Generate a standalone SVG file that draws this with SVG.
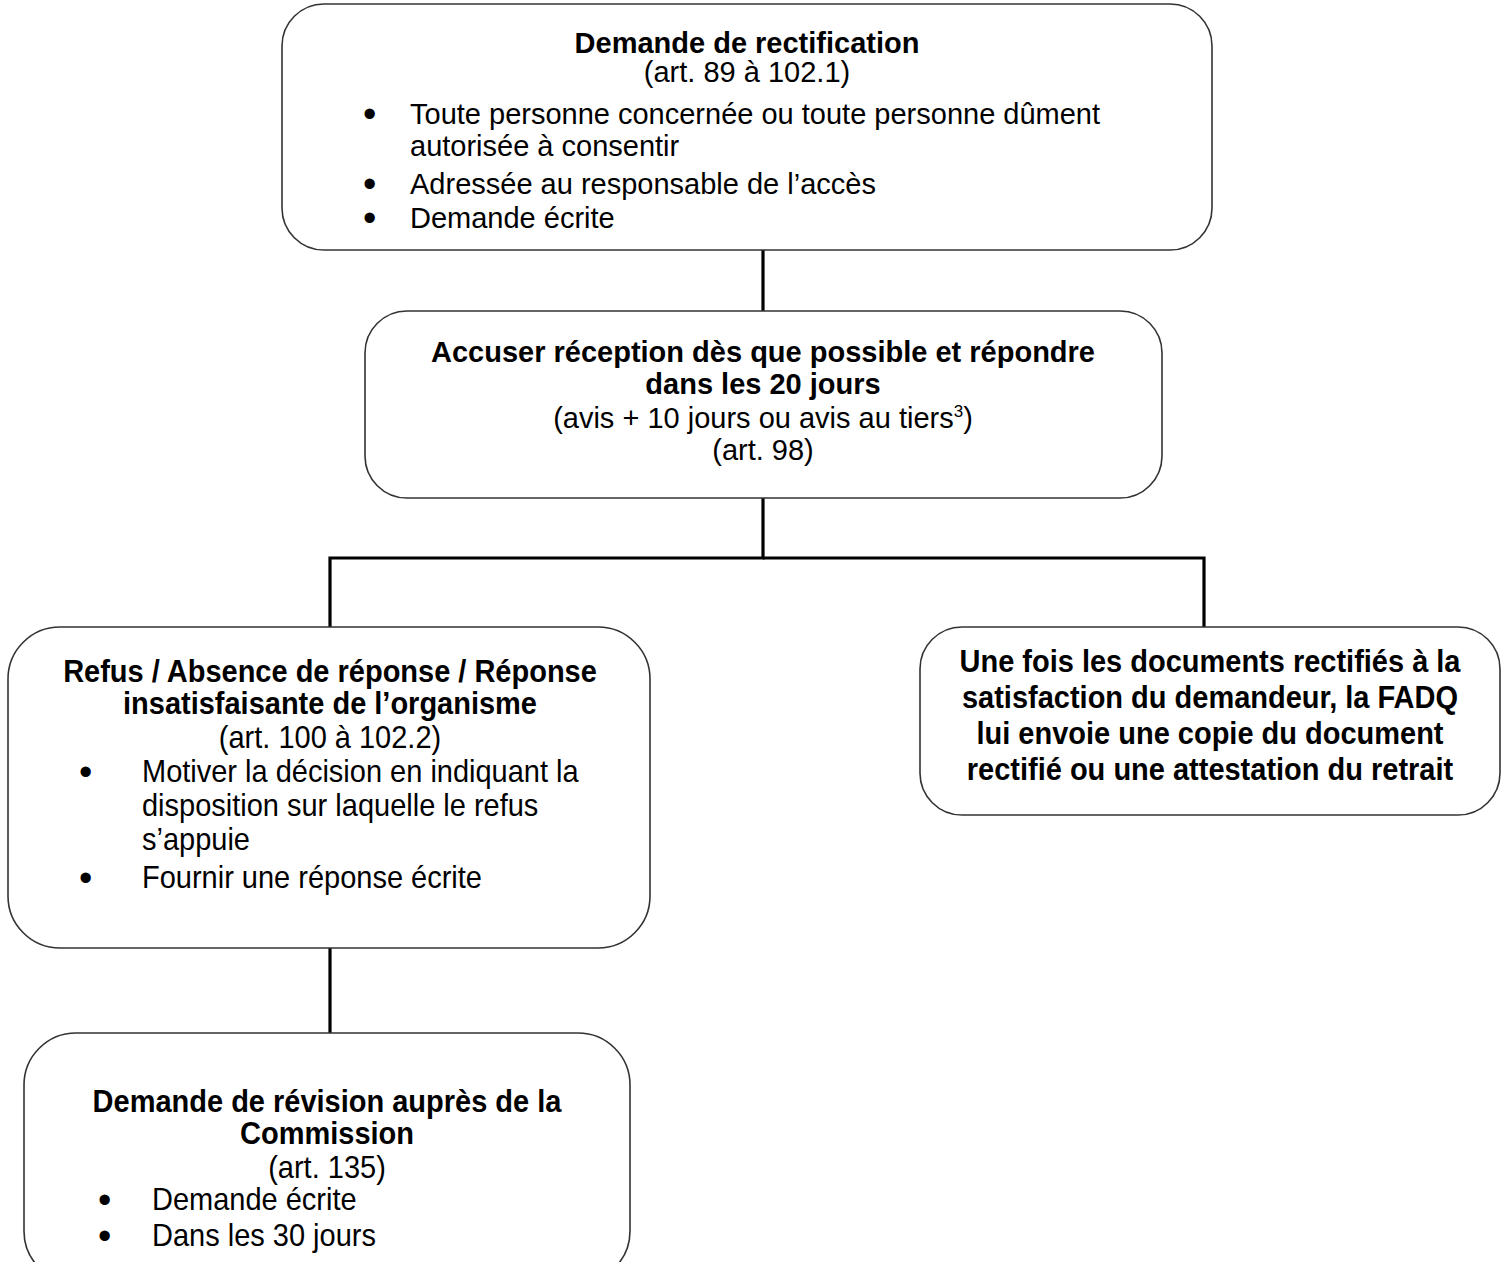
<svg xmlns="http://www.w3.org/2000/svg" width="1508" height="1262" viewBox="0 0 1508 1262">
<style>
.box{fill:#fff;stroke:#333;stroke-width:1.6}
.con{stroke:#000;stroke-width:3.2;fill:none}
text{font-family:"Liberation Sans",Arial,sans-serif;font-size:29px;fill:#000}
.b{font-weight:bold}
.c{text-anchor:middle}
text.bu{font-size:38px}
</style>
<rect width="1508" height="1262" fill="#fff"/>
<g id="connectors">
<line class="con" x1="763" y1="250" x2="763" y2="312"/>
<polyline class="con" points="763,498 763,558 330,558 330,627"/>
<polyline class="con" points="763,558 1204,558 1204,627"/>
<line class="con" x1="330" y1="948" x2="330" y2="1033"/>
</g>
<g id="n1">
<rect class="box" x="282" y="4" width="930" height="246" rx="42"/>
<text class="b c" x="747" y="53">Demande de rectification</text>
<text class="c" x="747" y="82">(art. 89 à 102.1)</text>
<text class="bu" x="363" y="127">•</text><text x="410" y="124">Toute personne concernée ou toute personne dûment</text>
<text x="410" y="156">autorisée à consentir</text>
<text class="bu" x="363" y="197">•</text><text x="410" y="194">Adressée au responsable de l’accès</text>
<text class="bu" x="363" y="231">•</text><text x="410" y="228">Demande écrite</text>
</g>
<g id="n2">
<rect class="box" x="365" y="311" width="797" height="187" rx="42"/>
<text class="b c" x="763" y="362">Accuser réception dès que possible et répondre</text>
<text class="b c" x="763" y="394">dans les 20 jours</text>
<text class="c" x="763" y="428">(avis + 10 jours ou avis au tiers<tspan font-size="17" dy="-11">3</tspan><tspan dy="11">)</tspan></text>
<text class="c" x="763" y="460">(art. 98)</text>
</g>
<g id="n3">
<rect class="box" x="8" y="627" width="642" height="321" rx="52"/>
<text class="b c" transform="translate(330,682) scale(1,1.1)">Refus / Absence de réponse / Réponse</text>
<text class="b c" transform="translate(330,714) scale(1,1.1)">insatisfaisante de l’organisme</text>
<text class="c" transform="translate(330,748) scale(1,1.1)">(art. 100 à 102.2)</text>
<text class="bu" x="79" y="785">•</text><text transform="translate(142,782) scale(1,1.1)">Motiver la décision en indiquant la</text>
<text transform="translate(142,816) scale(1,1.1)">disposition sur laquelle le refus</text>
<text transform="translate(142,850) scale(1,1.1)">s’appuie</text>
<text class="bu" x="79" y="891">•</text><text transform="translate(142,888) scale(1,1.1)">Fournir une réponse écrite</text>
</g>
<g id="n4">
<rect class="box" x="920" y="627" width="580" height="188" rx="42"/>
<text class="b c" transform="translate(1210,672) scale(1,1.1)">Une fois les documents rectifiés à la</text>
<text class="b c" transform="translate(1210,708) scale(1,1.1)">satisfaction du demandeur, la FADQ</text>
<text class="b c" transform="translate(1210,744) scale(1,1.1)">lui envoie une copie du document</text>
<text class="b c" transform="translate(1210,780) scale(1,1.1)">rectifié ou une attestation du retrait</text>
</g>
<g id="n5">
<rect class="box" x="24" y="1033" width="606" height="250" rx="52"/>
<text class="b c" transform="translate(327,1112) scale(1,1.1)">Demande de révision auprès de la</text>
<text class="b c" transform="translate(327,1144) scale(1,1.1)">Commission</text>
<text class="c" transform="translate(327,1178) scale(1,1.1)">(art. 135)</text>
<text class="bu" x="98" y="1213">•</text><text transform="translate(152,1210) scale(1,1.1)">Demande écrite</text>
<text class="bu" x="98" y="1249">•</text><text transform="translate(152,1246) scale(1,1.1)">Dans les 30 jours</text>
</g>
</svg>
